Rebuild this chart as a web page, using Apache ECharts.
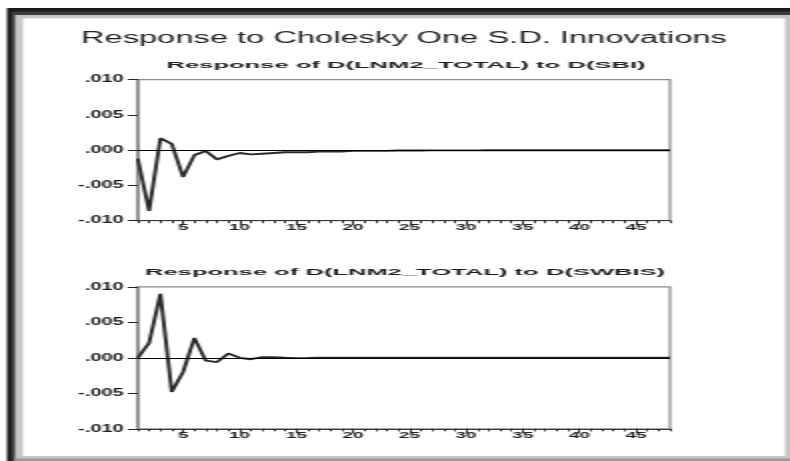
<!DOCTYPE html>
<html>
<head>
<meta charset="utf-8">
<title>Response to Cholesky One S.D. Innovations</title>
<script src="https://cdn.jsdelivr.net/npm/echarts@6/dist/echarts.min.js"></script>
<style>
  html, body { margin: 0; padding: 0; background: #fff; width: 790px; height: 461px; overflow: hidden; }
  /* The EViews-style graph is laid out on a narrow canvas and widened 2x horizontally */
  #chart { width: 395px; height: 461px; transform: scaleX(2); transform-origin: 0 0; }
</style>
</head>
<body>
<div id="chart"></div>
<script>
// Forecast horizon (periods)
const periods = ['1','2','3','4','5','6','7','8','9','10','11','12','13','14','15','16',
  '17','18','19','20','21','22','23','24','25','26','27','28','29','30','31','32',
  '33','34','35','36','37','38','39','40','41','42','43','44','45','46','47','48'];

// Response of D(LNM2_TOTAL) to a one S.D. shock in D(SBI)
const sbiResponse = [
  -0.0012, -0.0086, 0.0017, 0.0009, -0.0038, -0.0007, -0.0001, -0.0013, -0.0008, -0.0004,
  -0.0006, -0.0005, -0.0004, -0.0003, -0.0003, -0.0003, -0.0002, -0.0002, -0.0002, -0.0001,
  -0.0001, -0.0001, -0.0001, -0.00005, -0.00005, -0.00004, -0.00003, -0.00003, -0.00002, -0.00002,
  -0.00002, -0.00001, -0.00001, -0.00001, -0.00001, -0.00001, 0, 0, 0, 0,
  0, 0, 0, 0, 0, 0, 0, 0
];

// Response of D(LNM2_TOTAL) to a one S.D. shock in D(SWBIS)
const swbisResponse = [
  0, 0.0021, 0.0090, -0.0048, -0.0020, 0.0028, -0.0004, -0.0006, 0.0006, 0.0000,
  -0.0002, 0.0001, 0.0001, 0.0000, -0.00004, -0.00003, 0.00002, 0.00002, 0.00001, 0,
  0, 0, 0, 0, 0, 0, 0, 0, 0, 0,
  0, 0, 0, 0, 0, 0, 0, 0, 0, 0,
  0, 0, 0, 0, 0, 0, 0, 0
];

const mainTitle = 'Response to Cholesky One S.D. Innovations';
const panelTitles = ['Response of D(LNM2_TOTAL) to D(SBI)', 'Response of D(LNM2_TOTAL) to D(SWBIS)'];

const FONT = '"Liberation Sans", Arial, sans-serif';
const TEXT_COLOR = '#1f1f24';

// EViews-style tick labels: ".010", "-.005", ".000"
function yLabel(v) {
  if (Math.abs(v) < 1e-12) return '.000';
  const s = Math.abs(v).toFixed(3).replace(/^0/, '');
  return v < 0 ? '-' + s : s;
}

const gridBoxes = [
  { left: 68.9, right: 60, top: 79.7, height: 141 },
  { left: 68.9, right: 60, top: 286.8, height: 142 }
];

const grids = gridBoxes.map(g => Object.assign({
  show: true,
  borderColor: '#8c8c8c',
  borderWidth: 1.2,
  backgroundColor: 'transparent',
  containLabel: false,
  outerBoundsMode: 'none'
}, g));

const xAxes = [];
const yAxes = [];
gridBoxes.forEach((g, i) => {
  // main horizon axis: a tick at every period, labels at multiples of 5
  xAxes.push({
    type: 'category', gridIndex: i, position: 'bottom', data: periods, boundaryGap: false,
    axisLine: { show: true, onZero: false, lineStyle: { color: '#3a3a3a', width: 1 } },
    axisTick: { show: true, interval: 0, length: 2.5, lineStyle: { color: '#333', width: 1 } },
    axisLabel: {
      show: true, margin: 2,
      interval: (idx, val) => Number(val) % 5 === 0,
      fontFamily: FONT, fontSize: 9.5, fontWeight: 'bold', color: TEXT_COLOR
    },
    splitLine: { show: false }
  });
  // longer ticks at every fifth period
  xAxes.push({
    type: 'category', gridIndex: i, position: 'bottom', data: periods, boundaryGap: false,
    axisLine: { show: false, onZero: false },
    axisTick: { show: true, interval: (idx) => (idx + 1) % 5 === 0, length: 4.5, lineStyle: { color: '#333', width: 1 } },
    axisLabel: { show: false },
    splitLine: { show: false }
  });
  yAxes.push({
    type: 'value', gridIndex: i, min: -0.01, max: 0.01, interval: 0.005,
    axisLine: { show: true, onZero: false, lineStyle: { color: '#8c8c8c', width: 1.6 } },
    axisTick: { show: true, length: 5, lineStyle: { color: '#222', width: 1 } },
    axisLabel: {
      show: true, margin: 7, formatter: yLabel,
      fontFamily: FONT, fontSize: 10, fontWeight: 'bold', color: TEXT_COLOR
    },
    splitLine: { show: false }
  });
});

function responseSeries(data, i) {
  return {
    type: 'line', xAxisIndex: i * 2, yAxisIndex: i, data: data,
    symbol: 'none', smooth: false,
    lineStyle: { color: '#2b2b2b', width: 1.9 },
    markLine: {
      silent: true, symbol: ['none', 'none'], label: { show: false },
      lineStyle: { color: '#000', width: 1, type: 'solid', opacity: 1 },
      emphasis: { disabled: true },
      data: [{ yAxis: 0 }]
    },
    z: 3
  };
}

function textEl(text, x, y, font, scaleX) {
  return {
    type: 'text', x: x, y: y, scaleX: scaleX, z: 10,
    style: {
      text: text, font: font, fill: TEXT_COLOR,
      textAlign: 'center', textVerticalAlign: 'middle',
      align: 'center', verticalAlign: 'middle'
    }
  };
}

const chart = echarts.init(document.getElementById('chart'), null, { renderer: 'canvas', width: 395, height: 461 });
chart.setOption({
  animation: false,
  backgroundColor: '#ffffff',
  graphic: [
    // window frame: dark outer edge, light grey bevel, white panel
    { type: 'rect', z: -3, shape: { x: 3.5, y: 8, width: 391.5, height: 453 }, style: { fill: '#1a1a1a' } },
    { type: 'rect', z: -3, shape: { x: 5.6, y: 11.5, width: 389.4, height: 449.5 }, style: { fill: '#3c3c3c' } },
    { type: 'rect', z: -3, shape: { x: 7.5, y: 15, width: 387.5, height: 446 }, style: { fill: '#c6c6c6' } },
    { type: 'rect', z: -3, shape: { x: 7.5, y: 458.5, width: 387.5, height: 2.5 }, style: { fill: '#9a9a9a' } },
    { type: 'rect', z: -3, shape: { x: 11.5, y: 18.3, width: 381, height: 437.7 }, style: { fill: '#ffffff' } },
    textEl(mainTitle, 202, 39, '16px ' + FONT, 1.02),
    textEl(panelTitles[0], 203, 65.5, 'bold 9px ' + FONT, 1.42),
    textEl(panelTitles[1], 202.5, 272.5, 'bold 9px ' + FONT, 1.42)
  ],
  grid: grids,
  xAxis: xAxes,
  yAxis: yAxes,
  series: [responseSeries(sbiResponse, 0), responseSeries(swbisResponse, 1)]
});
</script>
</body>
</html>
